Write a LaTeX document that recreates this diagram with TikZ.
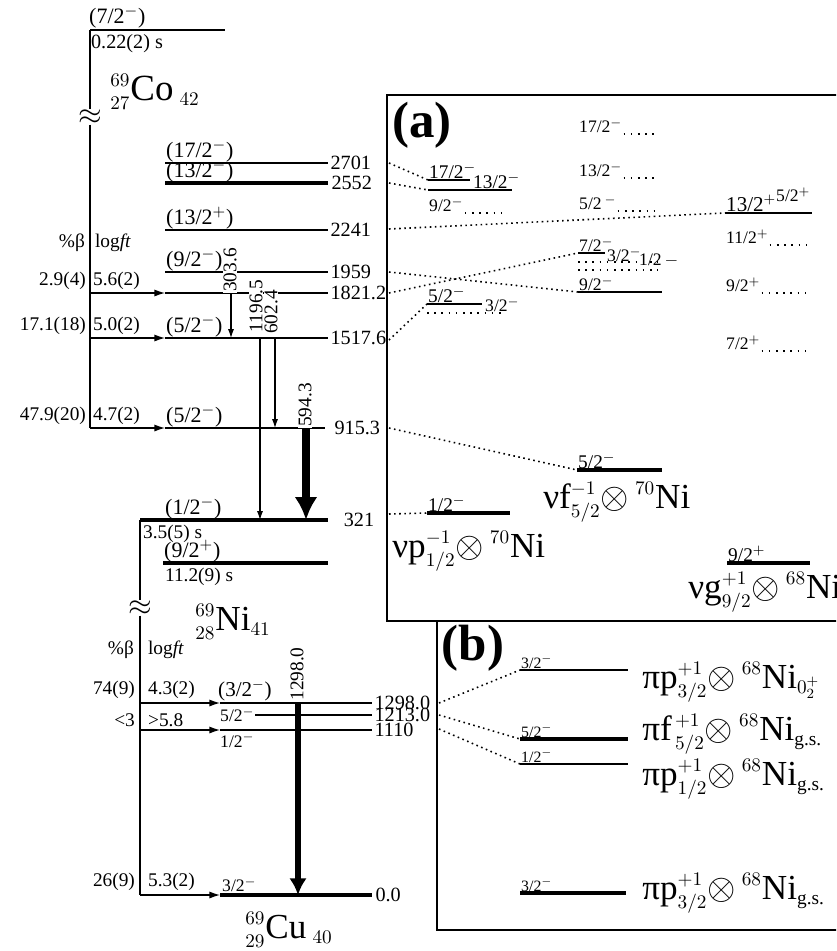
\documentclass[tikz,border=0pt]{standalone}
\usepackage{amsmath}
\usepackage{fontspec}
\setmainfont{Liberation Serif}
\usetikzlibrary{arrows.meta}
\DeclareMathSizes{20}{20}{11}{8}
\DeclareMathSizes{21}{21}{11}{8}

% single-particle configuration label
\newcommand{\cfg}[5]{#1$^{#2}_{#3}{\otimes}\,{}^{#4}$Ni$_{#5}$}

\begin{document}
\begin{tikzpicture}[x=0.2mm, y=-0.2mm,
  >={Latex[length=5pt,width=3.4pt]},
  lvl/.style={line width=0.9pt},
  lvlb/.style={line width=2pt},
  dlvl/.style={line width=0.9pt, dash pattern=on 0.9pt off 3.2pt},
  link/.style={line width=0.9pt, dash pattern=on 0.9pt off 2pt},
  feed/.style={line width=0.7pt, -{Latex[length=6pt,width=4pt]}},
  gam/.style={line width=0.6pt, ->},
  gamb/.style={line width=5pt, -{Latex[length=13pt,width=13pt]}},
  gamc/.style={line width=3.8pt, -{Latex[length=9.5pt,width=10pt]}},
  spin/.style={font=\fontsize{12.5}{13}\selectfont, inner sep=0.5pt, anchor=south west},
  spinc/.style={font=\fontsize{12}{13}\selectfont, inner sep=0.5pt, anchor=south west},
  en/.style={font=\fontsize{11.5}{13}\selectfont, inner sep=1pt, anchor=west},
  val/.style={font=\fontsize{11}{12}\selectfont, inner sep=1pt},
  glab/.style={font=\fontsize{11}{12}\selectfont, rotate=90, fill=white, inner sep=0.5pt},
  sma/.style={font=\fontsize{10}{11}\selectfont, inner sep=0.5pt, anchor=south west},
  smc/.style={font=\fontsize{11}{12}\selectfont, inner sep=0.5pt, anchor=south west},
  smb/.style={font=\fontsize{9}{10}\selectfont, inner sep=0.5pt, anchor=south west},
  conf/.style={font=\fontsize{20}{22}\selectfont, inner sep=0pt, anchor=base west},
  nucl/.style={font=\fontsize{20}{22}\selectfont, inner sep=0pt, anchor=base west},
  tag/.style={font=\fontsize{29}{30}\selectfont\bfseries, inner sep=0pt},
  brk/.style={font=\fontsize{16}{16}\selectfont, inner sep=0pt},
]
\path[use as bounding box] (0,0) rectangle (836,951);
\clip (0,0) rectangle (836,951);

% 69Co parent
\node[spin] (sco) at (88,29) {(7/2$^{-}$)};
\draw[lvl] (90,30) coordinate (co0) -- (225,30) coordinate (co1);
\node[val, anchor=north west, font=\fontsize{11.5}{12}\selectfont] (tco) at (89,32) {0.22(2) s};
\node[nucl, font=\fontsize{21}{22}\selectfont] (nco) at (110,100) {${}^{69}_{27}$Co$\,{}_{42}$};
\node[brk] (bk1) at (90,117) {$\approx$};
\coordinate (f1821) at (90,293);
\coordinate (f1517) at (90,338);
\coordinate (f915) at (90,428);
\draw[line width=1pt] (co0) -- (bk1.north);
\draw[line width=1pt] (bk1.south) -- (f915);

% 69Ni levels
\draw[lvl]  (165,163) coordinate (l2701) -- (328,163) node[en] (e2701) {2701};
\draw[lvlb] (165,183) coordinate (l2552) -- (328,183) node[en] (e2552) {2552};
\draw[lvl]  (165,230) coordinate (l2241) -- (328,230) node[en] (e2241) {2241};
\draw[lvl]  (165,272) coordinate (l1959) -- (328,272) node[en] (e1959) {1959};
\draw[lvl]  (165,293) coordinate (l1821) -- (328,293) node[en] (e1821) {1821.2};
\draw[lvl]  (165,338) coordinate (l1517) -- (328,338) node[en] (e1517) {1517.6};
\draw[lvl]  (165,428) coordinate (l915) -- (325,428) node[en, xshift=4pt] (e915) {915.3};
\draw[lvlb] (140,520) coordinate (l321) -- (328,520) node[en, xshift=7pt] (e321) {321};
\draw[lvlb] (163,563) coordinate (l92) -- (328,563);

\node[spin] (s2701) at (l2701) {(17/2$^{-}$)};
\node[spin] (s2552) at (l2552) {(13/2$^{-}$)};
\node[spin] (s2241) at (l2241) {(13/2$^{+}$)};
\node[spin] (s1959) at (l1959) {(9/2$^{-}$)};
\node[spin] (s1517) at (l1517) {(5/2$^{-}$)};
\node[spin] (s915) at (l915) {(5/2$^{-}$)};
\node[spin] (s321) at (164,520) {(1/2$^{-}$)};
\node[spin] (s92) at (l92) {(9/2$^{+}$)};
\node[val, anchor=north west] (t321) at (141,523) {3.5(5) s};
\node[val, anchor=north west] (t92) at (163,566) {11.2(9) s};
\node[nucl] (nni) at (195,630) {${}^{69}_{28}$Ni${}_{41}$};

% beta feeding from 69Co
\node[val, anchor=east] (hb1) at (87,243) {\%β};
\node[val, anchor=west] (hl1) at (93,243) {log\textit{ft}};
\node[val, anchor=south east] (b1821) at (88,292) {2.9(4)};
\node[val, anchor=south west] (g1821) at (91,292) {5.6(2)};
\node[val, anchor=south east] (b1517) at (88,337) {17.1(18)};
\node[val, anchor=south west] (g1517) at (91,337) {5.0(2)};
\node[val, anchor=south east] (b915) at (88,427) {47.9(20)};
\node[val, anchor=south west] (g915) at (91,427) {4.7(2)};
\draw[feed] (f1821) -- (l1821);
\draw[feed] (f1517) -- (l1517);
\draw[feed] (f915) -- (l915);

% gamma transitions in 69Ni
\coordinate (x303) at (231,0);
\coordinate (x1196) at (260,0);
\coordinate (x602) at (275,0);
\coordinate (x594) at (306,0);
\node[glab] (n303) at (230,270) {303.6};
\node[glab] (n1196) at (256,306) {1196.5};
\node[glab] (n602) at (271,312) {602.4};
\node[glab] (n594) at (305,405) {594.3};
\draw[gam] (x303 |- l1821) -- (x303 |- l1517);
\draw[gam] (x1196 |- l1517) -- (x1196 |- l321);
\draw[gam] (x602 |- l1517) -- (x602 |- l915);
\draw[gamb] (x594 |- l915) -- (x594 |- l321);

% 69Cu levels
\node[brk] (bk2) at (140,608) {$\approx$};
\coordinate (f1298) at (140,703);
\coordinate (f1110) at (140,730);
\coordinate (f0) at (140,895);
\draw[line width=0.6pt] (l321) -- (bk2.north);
\draw[line width=0.6pt] (bk2.south) -- (f0);
\draw[lvl]  (220,703) coordinate (l1298) -- (372,703) node[en] (e1298) {1298.0};
\draw[lvl]  (255,715) coordinate (l1213) -- (372,715) node[en] (e1213) {1213.0};
\draw[lvl]  (220,730) coordinate (l1110) -- (372,730) node[en] (e1110) {1110};
\draw[lvlb] (220,895) coordinate (l0) -- (372,895) node[en] (e0) {0.0};
\node[spinc] (s1298) at (217,702) {(3/2$^{-}$)};
\node[sma, anchor=west] (s1213) at (219,715) {5/2$^{-}$};
\node[sma, anchor=north west] (s1110) at (219,732) {1/2$^{-}$};
\node[sma] (s0) at (221,893) {3/2$^{-}$};
\node[val, anchor=east] (hb2) at (136,650) {\%β};
\node[val, anchor=west] (hl2) at (146,650) {log\textit{ft}};
\node[val, anchor=south east] (b1298) at (137,701) {74(9)};
\node[val, anchor=south west] (g1298) at (146,701) {4.3(2)};
\node[val, anchor=south east] (b1110) at (137,729) {<3};
\node[val, anchor=south west] (g1110) at (146,729) {>5.8};
\node[val, anchor=south east] (b0) at (137,893) {26(9)};
\node[val, anchor=south west] (g0) at (146,893) {5.3(2)};
\draw[feed] (f1298) -- (l1298);
\draw[feed] (f1110) -- (l1110);
\draw[feed] (f0) -- (l0);
\coordinate (x1298) at (298,0);
\node[glab] (n1298) at (297,674) {1298.0};
\draw[gamc] (x1298 |- l1298) -- (x1298 |- l0);
\node[nucl] (ncu) at (245,938) {${}^{69}_{29}$Cu$\,{}_{40}$};

% (a) configurations for 69Ni
\draw[line width=1.4pt] (845,95) -- (387,95) -- (387,621) -- (845,621);
\node[tag] (ta) at (422,125) {(a)};
\coordinate (xa1) at (506,0);
\coordinate (xa2) at (658,0);
\coordinate (xa3) at (806,0);
\draw[lvl] (428,180) coordinate (a17) -- (470,180);
\node[smc] (s17a) at (a17) {17/2$^{-}$};
\draw[lvl] (428,190) coordinate (a13) -- (512,190);
\node[smc] (s13a) at (472,190) {13/2$^{-}$};
\node[sma] (s9a) at (428,213) {9/2$^{-}$};
\draw[dlvl] (s9a.south east) -- (s9a.south east -| xa1);
\draw[lvl] (427,304) coordinate (a52) -- (482,304);
\node[smc] (s52a) at (a52) {5/2$^{-}$};
\node[sma] (s32a) at (484,313) {3/2$^{-}$};
\draw[dlvl] (427,313) coordinate (a32) -- (a32 -| xa1);
\draw[lvlb] (427,513) coordinate (a12) -- (510,513);
\node[smc] (s12a) at (a12) {1/2$^{-}$};
\node[conf] (cp) at (392,557) {\cfg{νp}{-1}{1/2}{70}{}};

\node[sma] (s17b) at (578,134) {17/2$^{-}$};
\draw[dlvl] (s17b.south east) -- (s17b.south east -| xa2);
\node[sma] (s13b) at (578,178) {13/2$^{-}$};
\draw[dlvl] (s13b.south east) -- (s13b.south east -| xa2);
\node[sma] (s5b) at (578,211) {5/2\,$^{-}$};
\draw[dlvl] (s5b.south east) -- (s5b.south east -| xa2);
\draw[lvl] (578,253) coordinate (a72) -- (605,253);
\node[sma] (s72b) at (a72) {7/2$^{-}$};
\node[sma] (s32b) at (606,263) {3/2$^{-}$};
\node[sma] (s12b) at (638,268) {1/2\,$-$};
\draw[dlvl] (578,262) coordinate (a32b) -- (a32b -| xa2);
\draw[dlvl] (578,270) coordinate (a12b) -- (a12b -| xa2);
\draw[lvl] (578,292) coordinate (a92) -- (662,292);
\node[sma] (s92b) at (a92) {9/2$^{-}$};
\draw[lvlb] (577,470) coordinate (a52c) -- (662,470);
\node[smc] (s52c) at (a52c) {5/2$^{-}$};
\node[conf] (cf) at (543,508) {\cfg{νf}{-1}{5/2}{70}{}};

\draw[lvl] (725,213) coordinate (a13p) -- (812,213);
\node[smc, font=\fontsize{12}{13}\selectfont] (s13p) at (a13p) {13/2$^{+}$};
\node[sma] (s52p) at (775,203) {5/2$^{+}$};
\node[sma] (s11p) at (725,245) {11/2$^{+}$};
\draw[dlvl] (s11p.south east) -- (s11p.south east -| xa3);
\node[sma] (s9p) at (725,293) {9/2$^{+}$};
\draw[dlvl] (s9p.south east) -- (s9p.south east -| xa3);
\node[sma] (s7p) at (725,351) {7/2$^{+}$};
\draw[dlvl] (s7p.south east) -- (s7p.south east -| xa3);
\draw[lvlb] (727,563) coordinate (a92p) -- (810,563);
\node[smc] (s92p) at (a92p) {9/2$^{+}$};
\node[conf] (cg) at (688,598) {\cfg{νg}{+1}{9/2}{68}{}};

\coordinate (k2701) at (389,163);
\coordinate (k2552) at (389,183);
\coordinate (k2241) at (389,229);
\coordinate (k1959) at (389,272);
\coordinate (k1821) at (389,293);
\coordinate (k1517) at (389,340);
\coordinate (k915) at (389,428);
\coordinate (k321) at (389,514);
\draw[link] (k2701) -- (a17);
\draw[link] (k2552) -- (a13);
\draw[link] (k2241) -- (a13p);
\draw[link] (k1959) -- (a92);
\draw[link] (k1821) -- (a72);
\draw[link] (k1517) -- (a52);
\draw[link] (k915) -- (a52c);
\draw[link] (k321) -- (a12);

% (b) configurations for 69Cu
\draw[line width=1pt] (437,621) -- (437,930) -- (845,930);
\node[tag] (tb) at (473,648) {(b)};
\draw[lvl] (520,670) coordinate (b32) -- (628,670);
\node[smb] (s32c) at (b32) {3/2$^{-}$};
\draw[lvlb] (520,739) coordinate (b52) -- (628,739);
\node[smb] (s52d) at (b52) {5/2$^{-}$};
\draw[lvl] (520,764) coordinate (b12) -- (628,764);
\node[smb] (s12d) at (b12) {1/2$^{-}$};
\draw[lvlb] (520,893) coordinate (b0) -- (626,893);
\node[smb] (s0d) at (b0) {3/2$^{-}$};
\node[conf] (c1) at (642,688) {\cfg{πp}{+1}{3/2}{68}{0_2^+}};
\node[conf] (c2) at (642,740) {\cfg{πf}{\,+1}{\,5/2}{68}{\text{g.s.}}};
\node[conf] (c3) at (642,785) {\cfg{πp}{+1}{1/2}{68}{\text{g.s.}}};
\node[conf] (c4) at (642,899) {\cfg{πp}{+1}{3/2}{68}{\text{g.s.}}};
\coordinate (k1298) at (439,703);
\coordinate (k1213) at (439,715);
\coordinate (k1110) at (439,729);
\draw[link] (k1298) -- (b32);
\draw[link] (k1213) -- (b52);
\draw[link] (k1110) -- (b12);

\end{tikzpicture}
\end{document}
